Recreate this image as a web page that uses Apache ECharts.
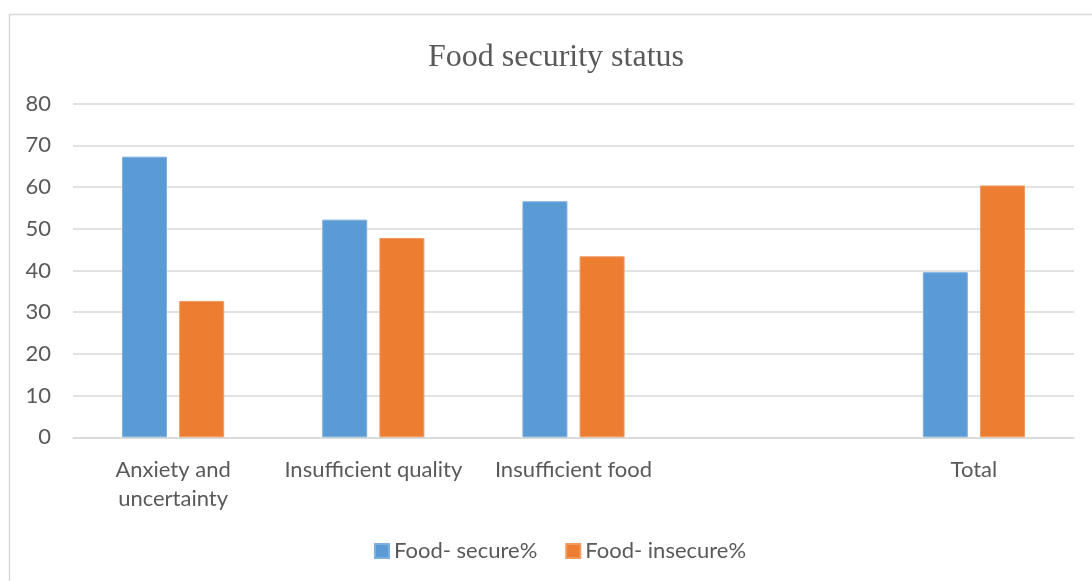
<!DOCTYPE html>
<html>
<head>
<meta charset="utf-8">
<script src="https://cdn.jsdelivr.net/npm/echarts@6/dist/echarts.min.js"></script>
<style>html,body{margin:0;padding:0;background:#fff}#c{width:1092px;height:581px}</style>
</head>
<body>
<div id="c"></div>
<script>
const categories = ['Anxiety and\nuncertainty', 'Insufficient quality', 'Insufficient food', '', 'Total'];
const secureName = 'Food- secure%';
const insecureName = 'Food- insecure%';
const secureValues = [67.3, 52.2, 56.6, null, 39.6];
const insecureValues = [32.7, 47.8, 43.4, null, 60.4];
const yTicks = [0, 10, 20, 30, 40, 50, 60, 70, 80];

const chart = echarts.init(document.getElementById('c'));
const font = 'Lato, "Liberation Sans", sans-serif';
chart.setOption({
  animation: false,
  backgroundColor: '#fff',
  graphic: [{
    type: 'rect', silent: true,
    shape: { x: 9.5, y: 14.5, width: 1200, height: 700 },
    style: { fill: 'none', stroke: '#d9d9d9', lineWidth: 1.5 }
  }],
  title: {
    text: 'Food security status',
    left: 423, top: 37,
    textStyle: { fontFamily: '"Liberation Serif", "Times New Roman", serif', fontWeight: 'normal', fontSize: 32, color: '#595959' }
  },
  legend: {
    bottom: 14, left: 369,
    itemWidth: 14, itemHeight: 14, itemGap: 28,
    icon: 'rect',
    textStyle: { fontFamily: font, fontSize: 22, color: '#595959' },
    data: [secureName, insecureName]
  },
  grid: { left: 73, right: 18, top: 103.7, bottom: 143.7, containLabel: false },
  xAxis: {
    type: 'category', data: categories,
    axisLine: { lineStyle: { color: '#d9d9d9', width: 1.5 } },
    axisTick: { show: false },
    axisLabel: { fontFamily: font, fontSize: 22, color: '#595959', margin: 18, lineHeight: 29, interval: 0 }
  },
  yAxis: {
    type: 'value', min: yTicks[0], max: yTicks[yTicks.length - 1], interval: 10,
    axisLine: { show: false }, axisTick: { show: false },
    splitLine: { lineStyle: { color: '#d9d9d9', width: 1.5 } },
    axisLabel: { fontFamily: font, fontSize: 22, color: '#595959', margin: 22 }
  },
  series: [
    { name: secureName, type: 'bar', data: secureValues, barWidth: 45, barGap: '27%',
      itemStyle: { color: '#5B9BD5', borderColor: '#7eb0de', borderWidth: 1 } },
    { name: insecureName, type: 'bar', data: insecureValues, barWidth: 45,
      itemStyle: { color: '#ED7D31', borderColor: '#f19a5e', borderWidth: 1 } }
  ]
});
</script>
</body>
</html>
